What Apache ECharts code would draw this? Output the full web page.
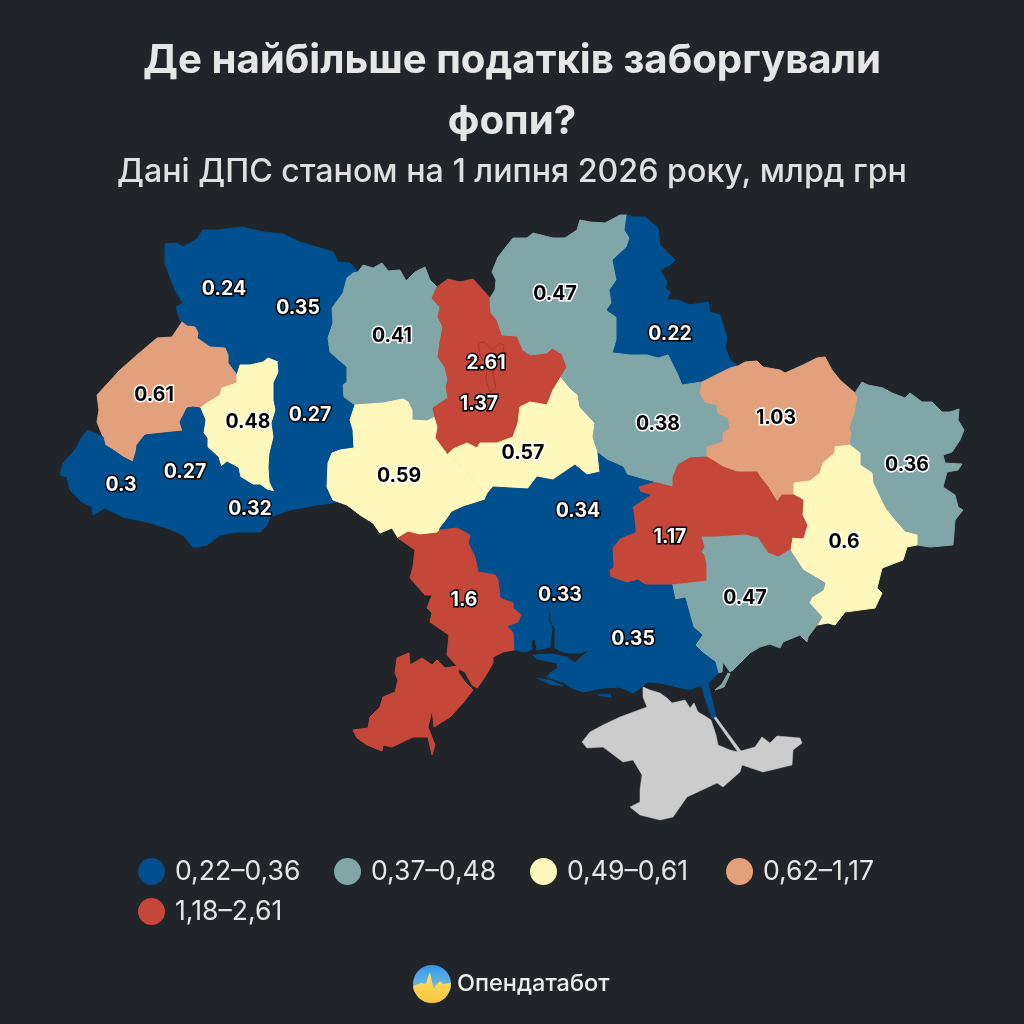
<!DOCTYPE html>
<html><head><meta charset="utf-8">
<style>html,body{margin:0;padding:0;background:#212429}#c{width:1024px;height:1024px}</style>
<script src="https://cdn.jsdelivr.net/npm/echarts@6/dist/echarts.min.js"></script>
</head><body><div id="c"></div>
<script>
const titleText = 'Де найбільше податків заборгували\nфопи?';
const subtitleText = 'Дані ДПС станом на 1 липня 2026 року, млрд грн';
const brandText = 'Опендатабот';
const bucketLabels = ['0,22–0,36','0,37–0,48','0,49–0,61','0,62–1,17','1,18–2,61'];
const bucketColors = ['#00508f','#81a6a8','#fff8bc','#e2a17c','#c4473a'];
const regionNames = ['Волинська','Рівненська','Львівська','Тернопільська','Хмельницька','Закарпатська','Івано-Франківська','Чернівецька','Житомирська','Вінницька','Київська','м. Київ','Черкаська','Чернігівська','Сумська','Полтавська','Харківська','Луганська','Донецька','Дніпропетровська','Запорізька','Кіровоградська','Миколаївська','Херсонська','Одеська'];
const regionValues = [0.24,0.35,0.61,0.48,0.27,0.3,0.27,0.32,0.41,0.59,1.37,2.61,0.57,0.47,0.22,0.38,1.03,0.36,0.6,1.17,0.47,0.34,0.33,0.35,1.6];
const regionBucket = [0,0,3,2,0,0,0,0,1,2,4,4,2,1,0,1,3,1,2,4,1,0,0,0,4];
const labelPoints = [[224,288],[298,307],[154,394],[248,421],[310,414],[121,484],[185,471],[250,508],[392,335],[399,475],[479,403],[486,362],[523,452],[555,293],[670,333],[658,423],[776,417],[907,464],[844,541],[670,536],[745,597],[578,510],[560,594],[633,638],[464,599]];
// Region outlines (base map geometry)
const outlines = {
'Волинська':[[[165,244],[177,243],[183,247],[197,239],[203,230],[217,230],[242,227],[263,232],[262,262],[258,290],[250,320],[225,348],[210,347],[197,338],[198,333],[195,327],[187,326],[182,322],[180,320],[176,307],[183,303],[175,290],[170,277],[165,263]]],
'Рівненська':[[[263,232],[283,234],[300,242],[317,247],[333,252],[338,262],[350,263],[358,272],[353,273],[347,278],[343,293],[332,308],[333,323],[328,338],[330,352],[300,355],[278,362],[268,358],[263,362],[250,365],[240,365],[237,375],[228,363],[228,355],[225,348],[250,320],[258,290],[262,262]]],
'Львівська':[[[182,322],[187,326],[195,327],[198,333],[197,338],[210,347],[225,348],[228,355],[228,363],[237,375],[237,383],[222,388],[220,395],[207,403],[200,408],[193,407],[187,408],[180,422],[183,431],[163,433],[145,435],[137,445],[136,452],[133,462],[123,457],[113,450],[105,445],[103,437],[97,422],[99,410],[97,395],[108,383],[120,370],[137,355],[157,338],[172,337],[178,328]]],
'Тернопільська':[[[240,365],[250,365],[263,362],[268,358],[278,362],[279,372],[274,383],[274,400],[276,410],[272,423],[274,437],[270,453],[269,467],[270,482],[275,492],[267,490],[260,485],[253,485],[240,477],[238,468],[227,462],[221,467],[218,457],[207,447],[207,438],[203,433],[205,420],[200,408],[207,403],[220,395],[222,388],[237,383],[237,375]]],
'Хмельницька':[[[330,352],[347,367],[347,382],[343,385],[344,397],[355,405],[350,420],[353,430],[354,448],[340,450],[332,453],[328,463],[327,490],[317,490],[290,497],[275,492],[270,482],[269,467],[270,453],[274,437],[272,423],[276,410],[274,400],[274,383],[279,372],[278,362],[300,355]]],
'Закарпатська':[[[88,430],[103,437],[105,445],[113,450],[123,457],[133,462],[140,490],[150,510],[167,528],[147,522],[123,517],[105,508],[93,515],[92,507],[82,502],[70,490],[67,477],[60,475],[63,463],[75,450],[82,437]]],
'Івано-Франківська':[[[133,462],[136,452],[137,445],[145,435],[163,433],[183,431],[180,422],[187,408],[193,407],[200,408],[205,420],[203,433],[207,438],[207,447],[218,457],[221,467],[227,462],[238,468],[240,477],[235,480],[235,490],[217,503],[198,520],[197,540],[197,547],[193,547],[183,535],[167,528],[150,510],[140,490]]],
'Чернівецька':[[[240,477],[253,485],[260,485],[267,490],[275,492],[290,497],[317,490],[327,490],[333,500],[337,502],[317,505],[290,510],[270,517],[267,525],[260,532],[237,532],[220,535],[207,545],[197,547],[197,540],[198,520],[217,503],[235,490],[235,480]]],
'Житомирська':[[[358,272],[363,265],[373,268],[382,263],[388,271],[400,270],[406,281],[415,272],[425,267],[430,280],[437,287],[432,298],[440,307],[438,317],[443,327],[440,342],[438,357],[445,367],[448,380],[446,387],[448,398],[433,408],[435,417],[427,421],[412,420],[412,410],[408,402],[403,399],[383,403],[355,405],[344,397],[343,385],[347,382],[347,367],[330,352],[328,338],[333,323],[332,308],[343,293],[347,278],[353,273]]],
'Вінницька':[[[355,405],[383,403],[403,399],[408,402],[412,410],[412,420],[427,421],[435,417],[438,427],[436,438],[448,454],[465,470],[480,488],[485,500],[463,507],[452,512],[445,522],[440,528],[437,533],[420,535],[408,532],[398,538],[392,528],[380,533],[373,523],[360,515],[347,505],[333,500],[327,487],[328,463],[332,453],[340,450],[354,448],[353,430],[350,420]]],
'Київська':[[[437,287],[448,279],[460,282],[473,279],[483,290],[490,298],[491,313],[497,320],[502,335],[517,336],[523,350],[530,355],[547,353],[552,348],[562,354],[567,367],[561,377],[553,390],[547,405],[530,402],[520,407],[518,423],[513,437],[497,443],[480,443],[477,448],[467,443],[453,449],[448,454],[436,438],[438,427],[435,417],[433,408],[448,398],[446,387],[448,380],[445,367],[438,357],[440,342],[443,327],[438,317],[440,307],[432,298]]],
'м. Київ':[[[478,343],[485,342],[492,350],[500,343],[504,345],[503,352],[495,362],[493,375],[496,388],[490,392],[486,380],[487,365],[480,355]]],
'Черкаська':[[[448,454],[453,449],[467,443],[477,448],[480,443],[497,443],[513,437],[518,423],[520,407],[530,402],[547,405],[553,390],[561,377],[570,388],[578,395],[580,407],[595,423],[593,437],[598,453],[600,472],[587,475],[575,465],[553,480],[537,477],[528,489],[510,488],[493,487],[488,493],[485,500],[480,488],[465,470]]],
'Чернігівська':[[[490,298],[495,290],[496,280],[492,272],[498,257],[513,238],[527,238],[533,233],[553,238],[565,238],[577,230],[580,220],[590,222],[605,223],[620,215],[627,215],[625,230],[630,238],[627,247],[613,260],[617,280],[610,290],[612,303],[607,310],[617,317],[617,330],[617,340],[613,353],[590,356],[562,354],[552,348],[547,353],[530,355],[523,350],[517,336],[502,335],[497,320],[491,313]]],
'Сумська':[[[627,215],[633,217],[645,217],[658,228],[660,245],[675,260],[670,265],[660,270],[667,282],[665,288],[670,292],[667,300],[678,300],[690,305],[708,302],[710,312],[720,315],[727,338],[725,347],[730,360],[738,366],[730,368],[722,372],[702,382],[682,385],[677,373],[668,355],[658,358],[647,355],[630,355],[613,353],[617,340],[617,330],[617,317],[607,310],[612,303],[610,290],[617,280],[613,260],[627,247],[630,238],[625,230]]],
'Полтавська':[[[562,354],[590,356],[613,353],[630,355],[647,355],[658,358],[668,355],[677,373],[682,385],[702,382],[700,393],[705,402],[717,405],[718,413],[728,418],[730,428],[723,433],[723,442],[707,447],[707,457],[690,458],[678,465],[673,477],[673,487],[653,482],[645,480],[627,475],[623,467],[607,460],[598,453],[593,437],[595,423],[580,407],[578,395],[570,388],[561,377],[567,367]]],
'Харківська':[[[702,382],[722,372],[730,368],[738,366],[745,362],[757,361],[763,367],[780,370],[785,373],[803,365],[817,358],[825,357],[832,370],[840,380],[855,393],[858,397],[855,413],[850,428],[852,433],[850,445],[835,447],[835,453],[823,463],[820,473],[810,481],[794,483],[794,495],[782,495],[777,502],[768,487],[760,477],[757,472],[737,472],[723,467],[707,457],[707,447],[723,442],[723,433],[730,428],[728,418],[718,413],[717,405],[705,402],[700,393]]],
'Луганська':[[[855,393],[862,382],[868,385],[883,388],[892,393],[905,398],[910,393],[922,402],[932,402],[942,412],[950,412],[959,409],[958,420],[964,430],[960,440],[952,452],[943,455],[945,463],[962,464],[958,470],[947,472],[943,487],[955,495],[958,507],[963,510],[955,520],[953,545],[930,547],[917,545],[917,535],[905,532],[893,518],[885,508],[873,483],[872,473],[860,465],[860,453],[850,445],[852,433],[850,428],[855,413],[858,397]]],
'Донецька':[[[850,445],[835,447],[835,453],[823,463],[820,473],[810,481],[794,483],[794,495],[803,500],[802,515],[807,525],[803,538],[792,537],[790,550],[803,570],[825,583],[823,590],[812,597],[809,603],[822,617],[817,625],[828,623],[835,625],[845,612],[875,608],[882,593],[877,588],[882,568],[903,560],[907,547],[917,545],[917,535],[905,532],[893,518],[885,508],[873,483],[872,473],[860,465],[860,453]]],
'Дніпропетровська':[[[707,457],[723,467],[737,472],[757,472],[760,477],[768,487],[777,502],[782,495],[794,495],[803,500],[802,515],[807,525],[803,538],[792,537],[790,550],[778,557],[768,553],[758,538],[745,535],[717,537],[702,537],[705,547],[702,552],[705,555],[707,565],[707,581],[672,585],[645,585],[638,580],[627,583],[610,577],[609,570],[613,567],[612,548],[620,538],[635,532],[635,528],[633,510],[632,507],[650,495],[640,492],[638,486],[653,482],[673,487],[673,477],[678,465],[690,458]]],
'Запорізька':[[[702,537],[717,537],[745,535],[758,538],[768,553],[778,557],[790,550],[803,570],[825,583],[823,590],[812,597],[809,603],[822,617],[817,625],[808,637],[807,642],[800,635],[783,642],[780,648],[770,644],[760,647],[750,653],[740,663],[733,670],[730,672],[723,662],[722,672],[718,673],[715,662],[703,653],[695,645],[702,635],[693,627],[685,598],[675,600],[672,585],[707,581],[707,565],[705,555],[702,552],[705,547]],[[715,690],[722,684],[728,673],[730,674],[724,687]]],
'Кіровоградська':[[[440,528],[445,522],[452,512],[463,507],[485,500],[488,493],[493,487],[510,488],[528,489],[537,477],[553,480],[575,465],[587,475],[600,472],[598,453],[607,460],[623,467],[627,475],[645,480],[653,482],[638,486],[640,492],[650,495],[632,507],[633,510],[635,528],[635,532],[620,538],[612,548],[613,567],[609,570],[580,565],[545,560],[510,563],[478,572],[475,557],[468,543],[470,535],[457,528],[440,530]]],
'Миколаївська':[[[478,572],[510,563],[545,560],[580,565],[609,570],[590,578],[570,590],[548,608],[549,615],[549,622],[552,628],[550,647],[537,650],[535,639],[531,641],[532,649],[525,652],[514,650],[513,633],[507,626],[518,622],[521,615],[513,608],[513,603],[500,598],[498,580],[495,575]]],
'Херсонська':[[[609,570],[610,577],[627,583],[638,580],[645,585],[672,585],[675,600],[685,598],[693,627],[702,635],[695,645],[703,653],[715,662],[718,673],[708,683],[716,718],[712,718],[704,695],[702,686],[698,686],[690,690],[670,685],[660,683],[647,682],[642,687],[633,693],[620,687],[603,688],[583,692],[570,687],[563,682],[547,677],[550,673],[558,668],[557,663],[537,659],[533,655],[552,654],[567,657],[575,663],[580,658],[590,650],[580,653],[570,653],[563,652],[555,648],[555,628],[551,622],[551,615],[548,608],[570,590],[590,578]],[[537,678],[552,681],[563,686],[550,684]],[[598,695],[610,694],[611,697]]],
'Одеська':[[[398,538],[408,532],[420,535],[437,533],[440,530],[457,528],[470,535],[468,543],[475,557],[478,572],[495,575],[498,580],[500,598],[513,603],[513,608],[521,615],[518,622],[507,626],[513,633],[514,650],[503,652],[493,657],[493,663],[483,680],[477,688],[472,685],[465,672],[459,669],[458,672],[465,682],[473,690],[463,703],[450,717],[434,727],[432,710],[428,727],[431,735],[435,745],[432,755],[428,737],[413,737],[392,747],[383,745],[382,751],[367,745],[357,738],[353,730],[368,728],[370,717],[380,707],[383,697],[395,692],[398,680],[395,673],[397,658],[409,653],[410,665],[422,658],[432,665],[437,660],[445,668],[457,666],[447,655],[449,635],[430,622],[432,613],[427,608],[432,595],[425,595],[410,578],[413,567],[415,550]]],
'Крим':[[[643,687],[650,690],[660,693],[667,698],[672,703],[685,700],[690,708],[694,703],[698,712],[705,716],[711,720],[716,735],[718,745],[730,750],[738,752],[714,718],[716,717],[741,751],[755,747],[762,737],[770,743],[777,736],[800,738],[802,743],[793,750],[792,765],[763,772],[742,765],[740,772],[723,787],[717,783],[687,797],[673,817],[660,820],[640,815],[630,807],[640,802],[640,790],[642,775],[633,760],[623,762],[603,747],[587,748],[582,742],[590,732],[603,725],[620,717],[647,707],[643,697]]]
};
const noDataColor = '#cccccc';
const bgColor = '#212429';

const features = Object.keys(outlines).map(name => ({type:'Feature',properties:{name},geometry:{type:'MultiPolygon',coordinates:outlines[name].map(r => [r.concat([r[0]])])}}));
echarts.registerMap('ua',{type:'FeatureCollection',features});
const all = Object.values(outlines).flat(2);
const xs = all.map(p=>p[0]), ys = all.map(p=>p[1]);
const minX=Math.min(...xs),maxX=Math.max(...xs),minY=Math.min(...ys),maxY=Math.max(...ys);

const regionStyles = regionNames.map((name,i)=>{
  const c = bucketColors[regionBucket[i]];
  const isCity = name === 'м. Київ';
  return {name,itemStyle:{areaColor:c,borderColor:isCity?'rgba(60,20,15,0.45)':c,borderWidth:isCity?0.5:1},silent:true};
});
regionStyles.push({name:'Крим',itemStyle:{areaColor:noDataColor,borderColor:noDataColor,borderWidth:0.5},silent:true});

const darkText = new Set([1,2,3]);
const series = bucketLabels.map((lab,b)=>({
  name:lab,type:'scatter',coordinateSystem:'geo',geoIndex:0,symbol:'circle',symbolSize:0,silent:true,
  itemStyle:{color:bucketColors[b],opacity:1},z:5,
  label:{show:true,position:'inside',offset:[0,1],formatter:p=>String(p.value[2]),fontFamily:'Inter',fontWeight:700,fontSize:19.5,opacity:1,
    color:darkText.has(b)?'#000000':'#ffffff',textBorderColor:darkText.has(b)?'#ffffff':'#000000',textBorderWidth:3},
  emphasis:{disabled:true},
  data:regionNames.map((n,i)=>regionBucket[i]===b?{name:n,value:[labelPoints[i][0],labelPoints[i][1],regionValues[i]]}:null).filter(Boolean)
}));

const legends = bucketLabels.map((lab,b)=>({
  left:138+196*(b%4),top:858+40*Math.floor(b/4),itemWidth:27,itemHeight:27,padding:0,icon:'circle',selectedMode:false,
  itemStyle:{opacity:1},data:[lab],
  textStyle:{fontFamily:'Inter',fontSize:26.6,color:'#e6e6e6',padding:[0,0,0,5]}
}));
const chart = echarts.init(document.getElementById('c'),null,{renderer:'canvas'});
chart.setOption({
  animation:false,
  backgroundColor:bgColor,
  title:{left:507,top:25,text:titleText,textAlign:'center',
    textStyle:{fontFamily:'Inter',fontWeight:700,fontSize:40.2,lineHeight:61,color:'#e6e6e6'},
    subtext:subtitleText,itemGap:0,
    subtextStyle:{fontFamily:'Inter',fontWeight:500,fontSize:32.2,lineHeight:40,color:'#e0e0e0'}},
  legend:legends,
  geo:{map:'ua',roam:false,silent:true,left:minX,top:minY,width:maxX-minX,height:maxY-minY,
    projection:{project:p=>[p[0],p[1]],unproject:p=>[p[0],p[1]]},
    itemStyle:{areaColor:noDataColor,borderWidth:0},label:{show:false},emphasis:{disabled:true},select:{disabled:true},
    regions:regionStyles},
  series,
  graphic:[
    {type:'circle',shape:{cx:432,cy:984,r:19},style:{fill:new echarts.graphic.LinearGradient(0,0,0,1,[{offset:0,color:'#2f97ea'},{offset:0.5,color:'#6bb6dc'},{offset:1,color:'#ffcf3f'}])}},
    {type:'polygon',shape:{points:[[413,986],[421,983],[426,984],[428,977],[430,972],[432,982],[434,989],[436,985],[440,981],[443,984],[451,983],[450,990],[445,998],[439,1002],[432,1003],[425,1002],[419,998],[414,991]]},style:{fill:new echarts.graphic.LinearGradient(0,0,0,1,[{offset:0,color:'#ffe06a'},{offset:1,color:'#f9c53a'}])}},
    {type:'text',x:457,y:984,style:{text:brandText,font:'500 23.5px Inter',fill:'#eeeeee',verticalAlign:'middle'}}
  ]
});
</script></body></html>
